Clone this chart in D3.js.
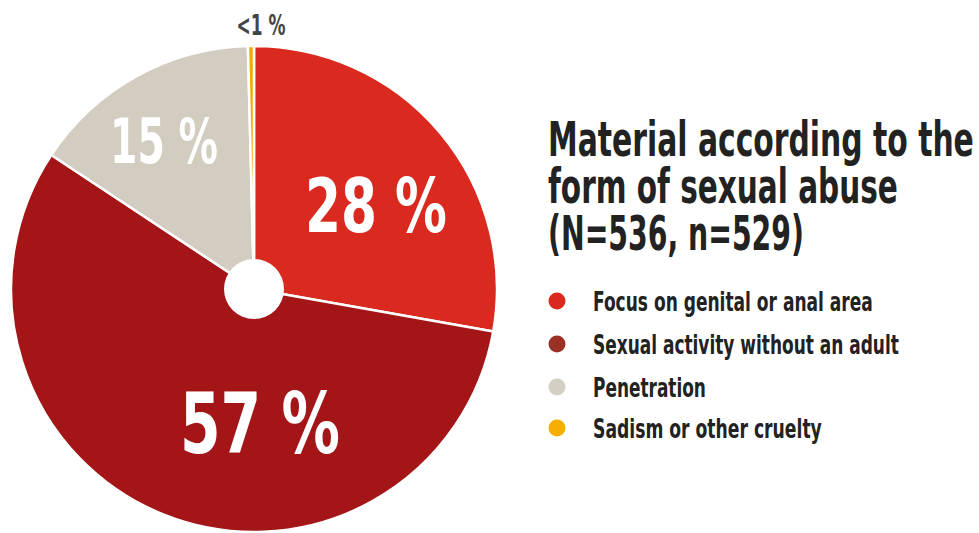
<!DOCTYPE html>
<html>
<head>
<meta charset="utf-8">
<script src="https://cdn.jsdelivr.net/npm/d3@7"></script>
<style>
  html, body { margin: 0; padding: 0; background: #fff; }
  svg { display: block; }
  text { font-family: "Liberation Sans Narrow", "DejaVu Sans Condensed", "Arial Narrow", sans-serif; font-weight: bold; }
</style>
</head>
<body>
<svg id="chart" width="979" height="533"></svg>
<script>
const categories = ["Focus on genital or anal area", "Sexual activity without an adult", "Penetration", "Sadism or other cruelty"];
const values = [27.8, 56.5, 15.3, 0.4];
const valueLabels = ["28 %", "57 %", "15 %", "<1 %"];
const sliceColors = ["#DA2A1F", "#A31517", "#D2CDC0", "#F2AB00"];
const legendColors = ["#DA2A1F", "#9B3025", "#D3CFC3", "#F4AE00"];
const titleLines = ["Material according to the", "form of sexual abuse", "(N=536, n=529)"];

const svg = d3.select("#chart");
const cx = 254, cy = 289, R = 243, r0 = 30;

// place a text so that it is horizontally squeezed to a target width (condensed look)
function squeezedText(parent, str, x, y, size, fill, width, anchor) {
  const t = parent.append("text")
    .attr("font-size", size)
    .attr("fill", fill)
    .text(str);
  const natural = t.node().getComputedTextLength();
  const sx = width / natural;
  const x0 = anchor === "middle" ? x - width / 2 : x;
  t.attr("transform", `translate(${x0},${y}) scale(${sx},1)`);
  return t;
}

const data = categories.map((c, i) => ({ cat: c, value: values[i], label: valueLabels[i], i }));
const pie = d3.pie().sort(null).value(d => d.value);
const arcs = pie(data);
const arc = d3.arc().innerRadius(0).outerRadius(R);

const g = svg.append("g").attr("transform", `translate(${cx},${cy})`);
g.selectAll("path.slice").data(arcs).join("path")
  .attr("class", "slice")
  .attr("d", arc)
  .attr("fill", d => sliceColors[d.data.i])
  .attr("stroke", "#fff")
  .attr("stroke-width", 2.5)
  .attr("stroke-linejoin", "round");

g.append("circle").attr("r", r0).attr("fill", "#fff");

// value labels (positions relative to pie centre)
const labelSpec = [
  { dx: 122, dy: -57, size: 74, fill: "#fff", w: 142 },
  { dx: 6, dy: 164, size: 84, fill: "#fff", w: 160 },
  { dx: -90, dy: -126, size: 62, fill: "#fff", w: 108 },
  { dx: 7, dy: -254, size: 29, fill: "#444", w: 49 }
];
arcs.forEach((a, k) => {
  const s = labelSpec[k];
  squeezedText(g, a.data.label, s.dx, s.dy, s.size, s.fill, s.w, "middle");
});

// title
const titleWidths = [426, 350, 256];
titleLines.forEach((t, i) => {
  squeezedText(svg, t, 548, 156 + i * 47, 48, "#222", titleWidths[i], "start");
});

// legend
const legY = [301, 344, 387, 428];
const legW = [280, 306, 113, 229];
const leg = svg.append("g");
categories.forEach((c, i) => {
  leg.append("circle").attr("cx", 557).attr("cy", legY[i]).attr("r", 8.5).attr("fill", legendColors[i]);
  squeezedText(leg, c, 593, legY[i] + 10, 27, "#222", legW[i], "start");
});
</script>
</body>
</html>
